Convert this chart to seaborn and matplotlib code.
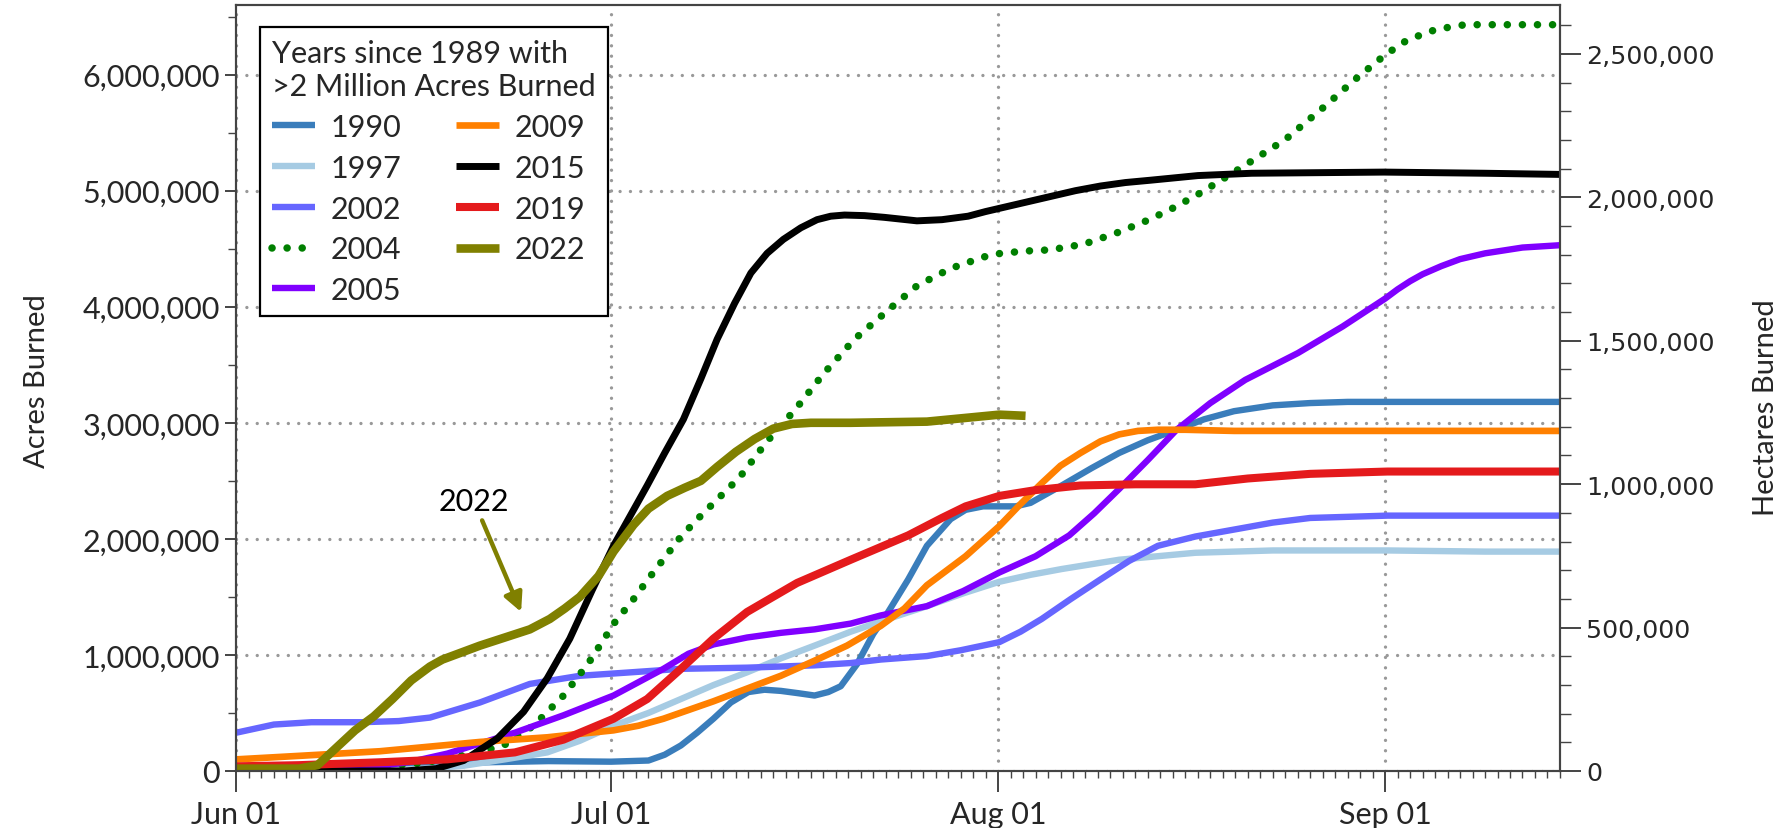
import numpy as np
import pandas as pd
import seaborn as sns
import matplotlib.pyplot as plt
import matplotlib.dates as mdates
from matplotlib.ticker import MultipleLocator, FuncFormatter
from matplotlib.lines import Line2D

sns.set_style("ticks")
plt.rcParams["font.family"] = ["Lato", "DejaVu Sans"]

start = pd.Timestamp("2022-06-01")
end_day = 106
acres_per_ha = 2.47105

years = ["1990", "1997", "2002", "2004", "2005", "2009", "2015", "2019", "2022"]
colors = ["#3A7DBB", "#A6CBE3", "#6666FF", "#007F00", "#8000FF",
          "#FF8000", "#000000", "#E41A1C", "#808000"]
widths = [4.6, 4.6, 4.6, 5.4, 4.6, 4.8, 5.0, 5.8, 6.2]

# days after Jun 01, cumulative acres burned (millions)
days_1990 = [0, 8, 15, 20, 25, 30, 33, 34.3, 35.6, 36.9, 38.2, 39.6, 41, 42.3, 43.6, 45, 46.3,
             47.4, 48.4, 49.7, 51, 52.2, 53.8, 55.3, 57.2, 58.4, 59.8, 61.1, 62.4, 63.6, 66.1,
             68.5, 70.7, 73, 75.3, 77.5, 79.9, 83, 86, 89, 92.2, 97, 102, 106]
acres_1990 = [0.0, 0.03, 0.06, 0.075, 0.085, 0.08, 0.09, 0.14, 0.22, 0.33, 0.45, 0.59, 0.68,
              0.70, 0.69, 0.67, 0.65, 0.68, 0.73, 0.92, 1.18, 1.37, 1.65, 1.94, 2.17, 2.25,
              2.28, 2.28, 2.28, 2.31, 2.46, 2.61, 2.74, 2.85, 2.94, 3.03, 3.10, 3.15, 3.17,
              3.18, 3.18, 3.18, 3.18, 3.18]

days_1997 = [0, 10, 15, 18.2, 21.5, 24.9, 27.5, 30.2, 33, 35.6, 38.2, 40.9, 43.6, 46.3, 49.2,
             52.2, 55.3, 58.2, 61.1, 63.6, 66.1, 70.7, 76.8, 83, 92.2, 100, 106]
acres_1997 = [0.0, 0.0, 0.02, 0.045, 0.10, 0.16, 0.26, 0.39, 0.50, 0.62, 0.74, 0.85, 0.97,
              1.08, 1.20, 1.31, 1.42, 1.53, 1.63, 1.69, 1.74, 1.82, 1.88, 1.90, 1.90, 1.89, 1.89]

days_2002 = [0, 3, 6, 10, 13, 15.5, 19.5, 23.5, 27.5, 31.6, 35.6, 40.9, 46.3, 49.2, 51.6, 55.3,
             58, 61.1, 62.8, 64.5, 66.8, 69.2, 71.5, 73.8, 76.8, 79.9, 83, 86, 92.2, 100, 106]
acres_2002 = [0.33, 0.40, 0.42, 0.42, 0.43, 0.46, 0.59, 0.75, 0.82, 0.85, 0.88, 0.89, 0.91,
              0.93, 0.96, 0.99, 1.04, 1.11, 1.20, 1.31, 1.48, 1.65, 1.81, 1.94, 2.02, 2.08,
              2.14, 2.18, 2.20, 2.20, 2.20]

days_2004 = [0, 10, 15, 19, 21.4, 23.8, 26.2, 28.2, 30.3, 31.8, 33.1, 35.6, 37.2, 40.3, 42.5,
             44.8, 47, 49.5, 52.3, 54.5, 57.2, 59.9, 61.2, 63.2, 65.2, 67.9, 70.6, 73.1, 75.2,
             77.2, 80.5, 84, 87.2, 89.5, 92, 93.8, 96.1, 98.4, 102, 106]
acres_2004 = [0.0, 0.02, 0.07, 0.15, 0.22, 0.39, 0.65, 0.93, 1.28, 1.48, 1.67, 2.02, 2.20,
              2.53, 2.84, 3.12, 3.42, 3.72, 3.98, 4.18, 4.33, 4.43, 4.46, 4.48, 4.49, 4.54,
              4.64, 4.75, 4.86, 4.98, 5.20, 5.44, 5.73, 5.95, 6.17, 6.30, 6.39, 6.43, 6.43, 6.43]

days_2005 = [0, 10, 14, 16.9, 19.6, 22.3, 26.2, 30.2, 34.2, 36.2, 38.2, 40.9, 43.6, 46.3, 49.2,
             51.6, 55.3, 58.2, 61.1, 64, 66.7, 68.7, 70.7, 73, 75.3, 78, 80.8, 85, 88.6, 92,
             93, 94, 95, 96.5, 98, 100, 103, 106]
acres_2005 = [0.0, 0.02, 0.08, 0.15, 0.24, 0.33, 0.48, 0.65, 0.88, 1.01, 1.09, 1.15, 1.19,
              1.22, 1.27, 1.34, 1.42, 1.55, 1.71, 1.85, 2.03, 2.22, 2.43, 2.68, 2.94, 3.17,
              3.37, 3.60, 3.83, 4.07, 4.15, 4.22, 4.28, 4.35, 4.41, 4.46, 4.51, 4.53]

days_2009 = [0, 5, 11.5, 15.5, 19.5, 24.9, 27.5, 30.2, 32.2, 34.2, 38.2, 43.6, 46.3, 48.9,
             51.6, 53.5, 55.3, 58.4, 61.1, 62.8, 64.5, 66, 67.6, 69.2, 70.7, 72.2, 73.8, 76,
             79.9, 92.2, 106]
acres_2009 = [0.10, 0.13, 0.17, 0.21, 0.25, 0.29, 0.32, 0.35, 0.39, 0.45, 0.60, 0.82, 0.95,
              1.08, 1.25, 1.40, 1.60, 1.85, 2.11, 2.30, 2.48, 2.63, 2.74, 2.84, 2.90, 2.93,
              2.94, 2.94, 2.93, 2.93, 2.93]

days_2015 = [0, 10, 13.5, 16, 18.2, 20.9, 23, 24.9, 26.7, 28.5, 30.2, 32.9, 34.3, 35.8, 37.2,
             38.5, 39.9, 41.2, 42.5, 43.8, 45.2, 46.5, 47.6, 48.7, 50.3, 51.9, 53.2, 54.5,
             56.5, 58.6, 60, 61.2, 63.2, 65.2, 67.2, 69.2, 71.2, 73.2, 77, 81.3, 91.9, 100, 106]
acres_2015 = [0.0, 0.0, 0.0, 0.02, 0.09, 0.28, 0.51, 0.80, 1.14, 1.56, 1.94, 2.46, 2.74, 3.03,
              3.38, 3.72, 4.03, 4.29, 4.46, 4.58, 4.68, 4.75, 4.78, 4.79, 4.785, 4.77, 4.755,
              4.74, 4.75, 4.78, 4.82, 4.85, 4.90, 4.95, 5.00, 5.04, 5.07, 5.09, 5.13, 5.15,
              5.16, 5.15, 5.14]

days_2019 = [0, 5, 11.5, 16.9, 22.3, 26.2, 30.2, 32.9, 35.6, 38.2, 40.9, 44.9, 49.2, 53.8,
             56.5, 58.4, 61.1, 64, 67.6, 72, 76.8, 81, 86, 92.2, 106]
acres_2019 = [0.04, 0.05, 0.075, 0.10, 0.16, 0.27, 0.45, 0.62, 0.88, 1.14, 1.37, 1.62, 1.82,
              2.03, 2.18, 2.28, 2.37, 2.42, 2.46, 2.47, 2.47, 2.52, 2.56, 2.58, 2.58]

days_2022 = [0, 5, 6.5, 8, 9.5, 11, 12.5, 14, 15.5, 16.5, 17.5, 18.5, 19.5, 21.5, 23.5, 25.1,
             26.3, 27.5, 29, 30.2, 31.8, 33, 34.5, 35.9, 37.2, 38.5, 40, 41.5, 43, 44.5, 46,
             49.2, 55.3, 61.1, 63.2]
acres_2022 = [0.02, 0.02, 0.05, 0.20, 0.35, 0.47, 0.62, 0.78, 0.90, 0.96, 1.00, 1.04, 1.08,
              1.15, 1.22, 1.31, 1.40, 1.50, 1.68, 1.89, 2.12, 2.26, 2.37, 2.44, 2.50, 2.62,
              2.75, 2.86, 2.95, 2.99, 3.00, 3.00, 3.01, 3.07, 3.06]

all_days = [days_1990, days_1997, days_2002, days_2004, days_2005,
            days_2009, days_2015, days_2019, days_2022]
all_acres = [acres_1990, acres_1997, acres_2002, acres_2004, acres_2005,
             acres_2009, acres_2015, acres_2019, acres_2022]

dot_style = (0, (0.01, 2.0))

fig = plt.figure(figsize=(17.83, 8.29), dpi=100)
ax = fig.add_axes([0.1326, 0.0688, 0.7423, 0.924])

handles = []
for yr, col, lw, d, a in zip(years, colors, widths, all_days, all_acres):
    df = pd.DataFrame({"date": start + pd.to_timedelta(d, unit="D"),
                       "acres": np.array(a) * 1e6})
    if yr == "2004":
        sns.lineplot(data=df, x="date", y="acres", ax=ax, color=col, linewidth=lw,
                     linestyle=dot_style, dash_capstyle="round")
        h = Line2D([], [], color=col, lw=lw, linestyle=dot_style, dash_capstyle="round")
    else:
        sns.lineplot(data=df, x="date", y="acres", ax=ax, color=col, linewidth=lw,
                     solid_capstyle="butt", solid_joinstyle="round")
        h = Line2D([], [], color=col, lw=lw, solid_capstyle="butt")
    handles.append(h)

ax.set_xlim(start, start + pd.Timedelta(days=end_day))
ax.set_ylim(0, 6.6e6)

ax.xaxis.set_major_locator(mdates.MonthLocator())
ax.xaxis.set_minor_locator(mdates.DayLocator())
ax.xaxis.set_major_formatter(mdates.DateFormatter("%b %d"))
ax.yaxis.set_major_locator(MultipleLocator(1e6))
ax.yaxis.set_minor_locator(MultipleLocator(5e5))
ax.yaxis.set_major_formatter(FuncFormatter(lambda v, p: f"{v:,.0f}"))

ax.grid(True, which="major", color="#999999", linestyle=(0, (0.01, 3.1)),
        linewidth=2.4, dash_capstyle="round")
ax.set_axisbelow(True)

ax.set_xlabel("")
ax.set_ylabel("Acres Burned", fontsize=21)
ax.yaxis.set_label_coords(-0.141, 0.51)

spine_col = "#444444"
for s in ax.spines.values():
    s.set_color(spine_col)
    s.set_linewidth(1.5)

ax.tick_params(axis="x", which="major", length=15, width=1.4, color=spine_col,
               labelsize=22, pad=6)
ax.tick_params(axis="x", which="minor", length=5, width=1.0, color=spine_col)
ax.tick_params(axis="y", which="major", length=8, width=1.4, color=spine_col,
               labelsize=22, pad=4)
ax.tick_params(axis="y", which="minor", length=6, width=1.0, color=spine_col)

ax2 = ax.twinx()
ax2.set_ylim(0, 6.6e6 / acres_per_ha)
ax2.yaxis.set_major_locator(MultipleLocator(5e5))
ax2.yaxis.set_minor_locator(MultipleLocator(1e5))
ax2.yaxis.set_major_formatter(FuncFormatter(lambda v, p: f"{v:,.0f}"))
ax2.grid(False)
for s in ax2.spines.values():
    s.set_color(spine_col)
    s.set_linewidth(1.5)
ax2.tick_params(axis="y", which="major", length=15, width=1.4, color=spine_col, pad=4)
ax2.tick_params(axis="y", which="minor", length=8, width=1.0, color=spine_col)
for t in ax2.get_yticklabels():
    t.set_fontfamily("DejaVu Sans")
    t.set_fontsize(18.3)
ax2.set_ylabel("Hectares Burned", fontsize=21)
ax2.yaxis.set_label_coords(1.146, 0.475)

leg = ax.legend(handles, years, ncol=2, loc="upper left",
                bbox_to_anchor=(0.0178, 0.971), borderaxespad=0,
                title="Years since 1989 with\n>2 Million Acres Burned",
                title_fontsize=22, fontsize=22, alignment="left",
                handlelength=1.4, handletextpad=0.5, columnspacing=1.8,
                labelspacing=0.42, borderpad=0.4, fancybox=False, framealpha=1,
                edgecolor="black")
leg.get_frame().set_linewidth(1.6)

ax.annotate("2022", xy=(start + pd.Timedelta(days=22.8), 1.37e6),
            xytext=(start + pd.Timedelta(days=19.0), 2.33e6),
            ha="center", va="center", fontsize=22, color="black",
            arrowprops=dict(arrowstyle="-|>", color="#808000", lw=3.2,
                            mutation_scale=28, shrinkA=2, shrinkB=0))

fig.savefig("out.png", dpi=100)
